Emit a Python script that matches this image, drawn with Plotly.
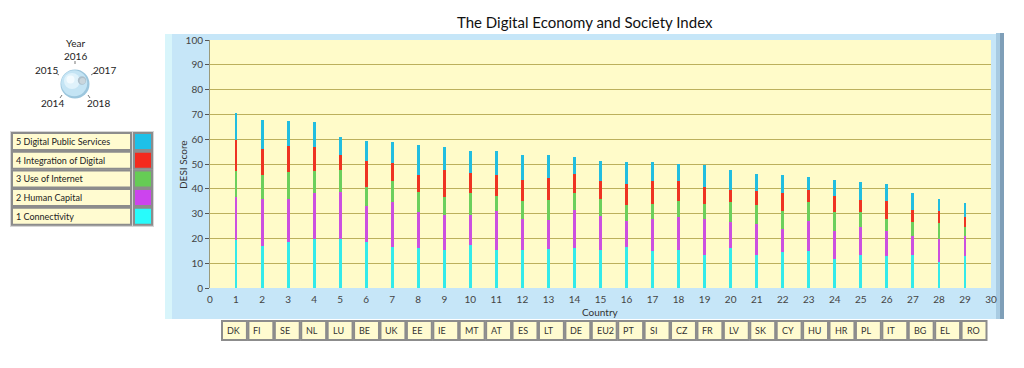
import plotly.graph_objects as go

# ---------------- data ----------------
countries = ["DK", "FI", "SE", "NL", "LU", "BE", "UK", "EE", "IE", "MT", "AT", "ES", "LT", "DE", "EU2",
             "PT", "SI", "CZ", "FR", "LV", "SK", "CY", "HU", "HR", "PL", "IT", "BG", "EL", "RO"]
positions = list(range(1, 30))
connectivity = [19.2, 16.8, 18.7, 19.9, 19.9, 18.7, 16.4, 16.1, 15.4, 17.2, 15.2, 15.4, 15.8, 16.1, 15.2,
                16.5, 14.8, 15.4, 13.4, 16.1, 13.2, 14.5, 15.0, 11.8, 13.2, 13.0, 13.4, 10.5, 13.0]
human_capital = [17.3, 19.2, 17.3, 18.4, 18.8, 14.2, 18.2, 14.4, 14.1, 12.3, 15.7, 12.5, 11.7, 15.4, 13.7,
                 10.7, 13.0, 13.2, 14.5, 10.7, 12.7, 9.3, 12.2, 11.3, 11.6, 9.8, 7.7, 9.2, 7.8]
use_of_internet = [10.7, 9.4, 10.6, 8.9, 9.0, 8.0, 8.4, 8.4, 7.1, 9.0, 6.4, 7.3, 8.1, 6.8, 7.1,
                   6.4, 6.2, 6.3, 6.1, 7.8, 7.4, 7.3, 7.4, 7.4, 5.7, 5.1, 5.7, 6.5, 4.0]
integration_digital = [12.5, 10.8, 10.7, 9.8, 6.0, 10.5, 7.3, 6.7, 11.1, 7.8, 8.1, 8.4, 8.7, 7.7, 7.0,
                       8.4, 9.2, 8.1, 6.9, 5.0, 5.9, 7.2, 5.0, 6.8, 4.8, 7.0, 4.7, 4.7, 3.8]
digital_public_services = [10.8, 11.6, 10.2, 10.1, 7.1, 7.7, 8.5, 12.1, 9.1, 9.1, 9.8, 10.1, 9.3, 7.0, 8.3,
                           9.0, 7.5, 6.9, 8.6, 8.1, 6.7, 7.3, 5.1, 6.3, 7.3, 7.1, 6.8, 5.1, 5.6]
legend_labels = ["5 Digital Public Services", "4 Integration of Digital", "3 Use of Internet",
                 "2 Human Capital", "1 Connectivity"]
years = ["2014", "2015", "2016", "2017", "2018"]
title_text = "The Digital Economy and Society Index"

# ---------------- styling ----------------
FONT = "Lato, Noto Sans, sans-serif"
C_CONN, C_HC, C_UOI, C_IDT, C_DPS = "#34eaea", "#cc4fe0", "#6ccf5c", "#ee3322", "#22bde0"
SW_COLORS = ["#1ec0e8", "#f42a1e", "#66cc55", "#cc44ee", "#28fbfb"]

W, H = 1024, 368
L, R, T, B = 210, 991, 40, 288


def px(x):
    return (x - L) / (R - L)


def py(y):
    return (B - y) / (B - T)


fig = go.Figure()
series = [(connectivity, C_CONN, "1 Connectivity"), (human_capital, C_HC, "2 Human Capital"),
          (use_of_internet, C_UOI, "3 Use of Internet"), (integration_digital, C_IDT, "4 Integration of Digital"),
          (digital_public_services, C_DPS, "5 Digital Public Services")]
for vals, col, name in series:
    fig.add_trace(go.Bar(x=positions, y=vals, name=name, marker=dict(color=col, line=dict(width=0)),
                         width=0.11, showlegend=False))

shapes = []
annotations = []


def rect(x0, y0, x1, y1, fill, line_color=None, lw=0, layer="below"):
    shapes.append(dict(type="rect", xref="paper", yref="paper", x0=px(x0), x1=px(x1), y0=py(y1), y1=py(y0),
                       fillcolor=fill, line=dict(color=line_color or fill, width=lw), layer=layer))


def circle(cx, cy, r, fill, layer="above"):
    shapes.append(dict(type="circle", xref="paper", yref="paper", x0=px(cx - r), x1=px(cx + r),
                       y0=py(cy + r), y1=py(cy - r), fillcolor=fill, line=dict(width=0), layer=layer))


def text(x, y, s, size=10, xanchor="center", color="#222", angle=0):
    annotations.append(dict(xref="paper", yref="paper", x=px(x), y=py(y), text=s, showarrow=False,
                            xanchor=xanchor, yanchor="middle", textangle=angle,
                            font=dict(family=FONT, size=size, color=color)))


# blue frame around the graph
rect(165, 34, 1003, 319, "#c6e6f8")
rect(165, 34, 172, 319, "#d8f5fb")
rect(996, 33, 1000, 319, "#a8cbe2")
rect(1000, 33, 1004, 319, "#7f9fb8")
# yellow plotting area
rect(L, T, R, B, "#fffbc9")

# country boxes
n = len(countries)
step = (988 - 222) / n
for i, c in enumerate(countries):
    x0 = 222 + i * step
    rect(x0, 321, x0 + step - 1.5, 340, "#fffbd0", "#8c8c8c", 2, layer="above")
    text(x0 + 3, 330.5, c, size=9, xanchor="left", color="#333")

# legend panel
rect(10, 131, 154, 227, "#d6d6d6")
for r_i, (lab, col) in enumerate(zip(legend_labels, SW_COLORS)):
    y0 = 133 + r_i * 18.7
    rect(12, y0, 131, y0 + 17, "#fffbd0", "#8c8c8c", 2, layer="above")
    rect(134, y0, 152, y0 + 17, col, "#8c8c8c", 2, layer="above")
    text(14, y0 + 8.5, lab, size=9, xanchor="left", color="#222")

# year knob
kx, ky = 75, 84
tick_pts = [((62, 95), (60, 98)), ((59, 75), (56, 73)), ((75, 64), (75, 61)),
            ((91, 75), (94, 73)), ((88, 95), (90, 98))]
for (a, b) in tick_pts:
    shapes.append(dict(type="line", xref="paper", yref="paper", x0=px(a[0]), y0=py(a[1]), x1=px(b[0]),
                       y1=py(b[1]), line=dict(color="#777", width=1)))
circle(kx, ky, 14.5, "#9cc6dd")
circle(kx - 0.8, ky - 0.8, 13, "#c4e4f4")
circle(kx - 3, ky - 3, 8, "#dff2fb")
circle(kx - 4.5, ky - 4.5, 4, "#f3fbff")
circle(kx + 7, ky - 3.5, 4.2, "#aebfca")
circle(kx + 7.5, ky - 3, 3, "#c9d6dd")
text(75, 43, "Year", size=10)
text(75, 56, years[2], size=10)
text(46, 70, years[1], size=10)
text(104, 70, years[3], size=10)
text(52, 103, years[0], size=10)
text(98, 103, years[4], size=10)

# title & axis titles
text(585, 22, title_text, size=15, color="#111")
text(600, 312, "Country", size=10, color="#333")
text(183, 165, "DESI Score", size=10, color="#333", angle=-90)

fig.update_layout(
    width=W, height=H,
    margin=dict(l=L, r=W - R, t=T, b=H - B, pad=0),
    paper_bgcolor="white",
    plot_bgcolor="rgba(0,0,0,0)",
    barmode="stack",
    bargap=0,
    font=dict(family=FONT, size=10, color="#444"),
    shapes=shapes,
    annotations=annotations,
    xaxis=dict(range=[0, 30], tick0=0, dtick=1, showgrid=False, zeroline=False, showline=False,
               ticks="", ticklabelstandoff=4, tickfont=dict(size=10, color="#444")),
    yaxis=dict(range=[0, 100], tick0=0, dtick=10, showgrid=True, gridcolor="#bcb05c", gridwidth=1.3,
               zeroline=False, showline=True, linecolor="#9a9a7a", linewidth=1, ticks="outside", ticklen=4,
               tickcolor="#555", tickfont=dict(size=10, color="#444")),
)

fig.write_html("out.html", config={"displayModeBar": False},
               post_script="document.body.style.margin='0px';document.body.style.padding='0px';")
